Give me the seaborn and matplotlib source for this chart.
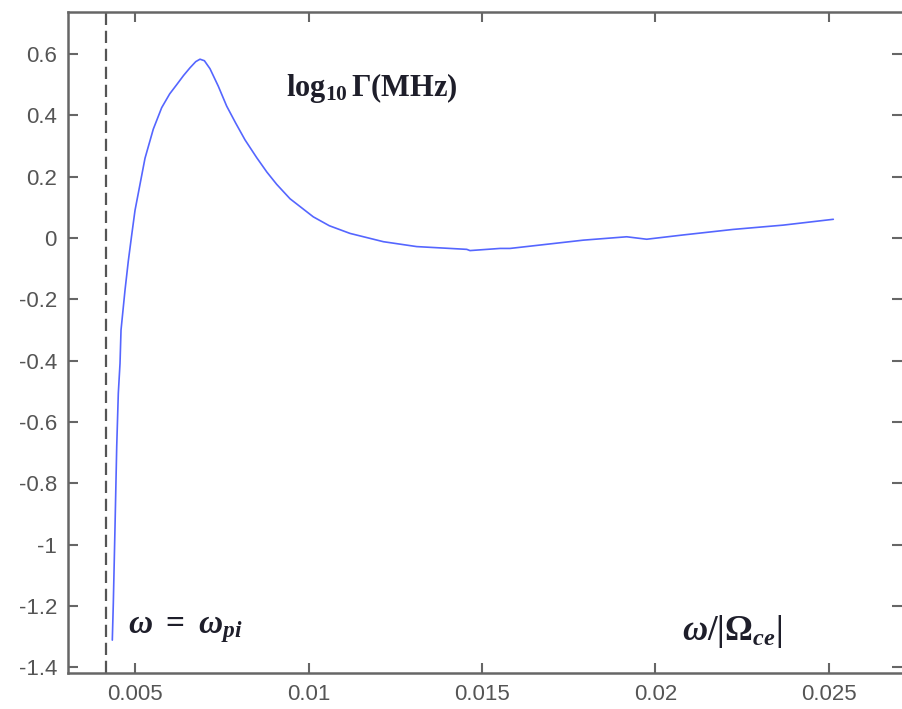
import matplotlib
matplotlib.use("Agg")
import matplotlib.pyplot as plt
import seaborn as sns
import pandas as pd

# Data
omega = [0.004346, 0.004375, 0.004424, 0.004473, 0.004519, 0.004568, 0.004597,
         0.004712, 0.004807, 0.004905, 0.005000, 0.005144, 0.005288, 0.005527,
         0.005769, 0.006000, 0.006202, 0.006400, 0.006585, 0.006750, 0.006873,
         0.007000, 0.007161, 0.007400, 0.007642, 0.007900, 0.008170, 0.008507,
         0.008800, 0.009083, 0.009467, 0.010138, 0.010600, 0.011196, 0.012156,
         0.013118, 0.014078, 0.014560, 0.014654, 0.015520, 0.015807, 0.017920,
         0.019170, 0.019746, 0.020800, 0.022240, 0.023680, 0.025124]
log_gamma = [-1.311, -1.191, -0.941, -0.680, -0.506, -0.409, -0.300,
             -0.170, -0.075, 0.010, 0.090, 0.175, 0.260, 0.355,
             0.425, 0.470, 0.500, 0.530, 0.555, 0.575, 0.583,
             0.578, 0.552, 0.495, 0.430, 0.375, 0.320, 0.262,
             0.215, 0.175, 0.128, 0.069, 0.040, 0.015, -0.012,
             -0.028, -0.034, -0.037, -0.041, -0.034, -0.034, -0.007,
             0.004, -0.004, 0.010, 0.028, 0.042, 0.061]
omega_pi = 0.004164

x_ticks = [0.005, 0.01, 0.015, 0.02, 0.025]
x_tick_labels = ["0.005", "0.01", "0.015", "0.02", "0.025"]
y_ticks = [0.6, 0.4, 0.2, 0.0, -0.2, -0.4, -0.6, -0.8, -1.0, -1.2, -1.4]
y_tick_labels = ["0.6", "0.4", "0.2", "0", "-0.2", "-0.4", "-0.6", "-0.8", "-1", "-1.2", "-1.4"]

df = pd.DataFrame({"omega": omega, "log_gamma": log_gamma})

sns.set_style("ticks")
plt.rcParams["font.family"] = ["Liberation Sans", "DejaVu Sans"]
plt.rcParams["mathtext.fontset"] = "custom"
plt.rcParams["mathtext.rm"] = "Liberation Serif:bold"
plt.rcParams["mathtext.it"] = "Liberation Serif:italic:bold"
plt.rcParams["mathtext.bf"] = "Liberation Serif:bold"

fig = plt.figure(figsize=(9.03, 7.09), dpi=100)
ax = fig.add_axes([68 / 903, 1 - 672.7 / 709, (902 - 68) / 903, (672.7 - 12.3) / 709])

sns.lineplot(data=df, x="omega", y="log_gamma", ax=ax, color="#5566ff",
             linewidth=1.2, sort=False)
ax.axvline(omega_pi, color="#555555", linewidth=1.6, linestyle=(0, (5.5, 2.6)))

ax.set_xlim(0.003069, 0.027104)
ax.set_ylim(-1.4173, 0.7359)
ax.set_xticks(x_ticks)
ax.set_xticklabels(x_tick_labels)
ax.set_yticks(y_ticks)
ax.set_yticklabels(y_tick_labels)
ax.set_xlabel("")
ax.set_ylabel("")

for side in ["left", "bottom", "top"]:
    ax.spines[side].set_color("#666666")
    ax.spines[side].set_linewidth(1.8)
ax.spines["right"].set_visible(False)

ax.tick_params(axis="both", which="major", direction="in", length=7, width=1.5,
               color="#666666", labelcolor="#555555", labelsize=16,
               top=True, right=True, pad=8)

txt_color = "#1e1e2a"
ax.text(0.009352, 0.489, r"$\mathrm{log}_{10}\,\Gamma\mathrm{(MHz)}$", fontsize=22,
        color=txt_color, ha="left", va="center")
ax.text(0.0048, -1.275, r"$\omega\ =\ \omega_{pi}$", fontsize=24,
        color=txt_color, ha="left", va="center")
ax.text(0.020764, -1.282, r"$\omega/|\Omega_{ce}|$", fontsize=25,
        color=txt_color, ha="left", va="center")

fig.savefig("out.png", dpi=100)
